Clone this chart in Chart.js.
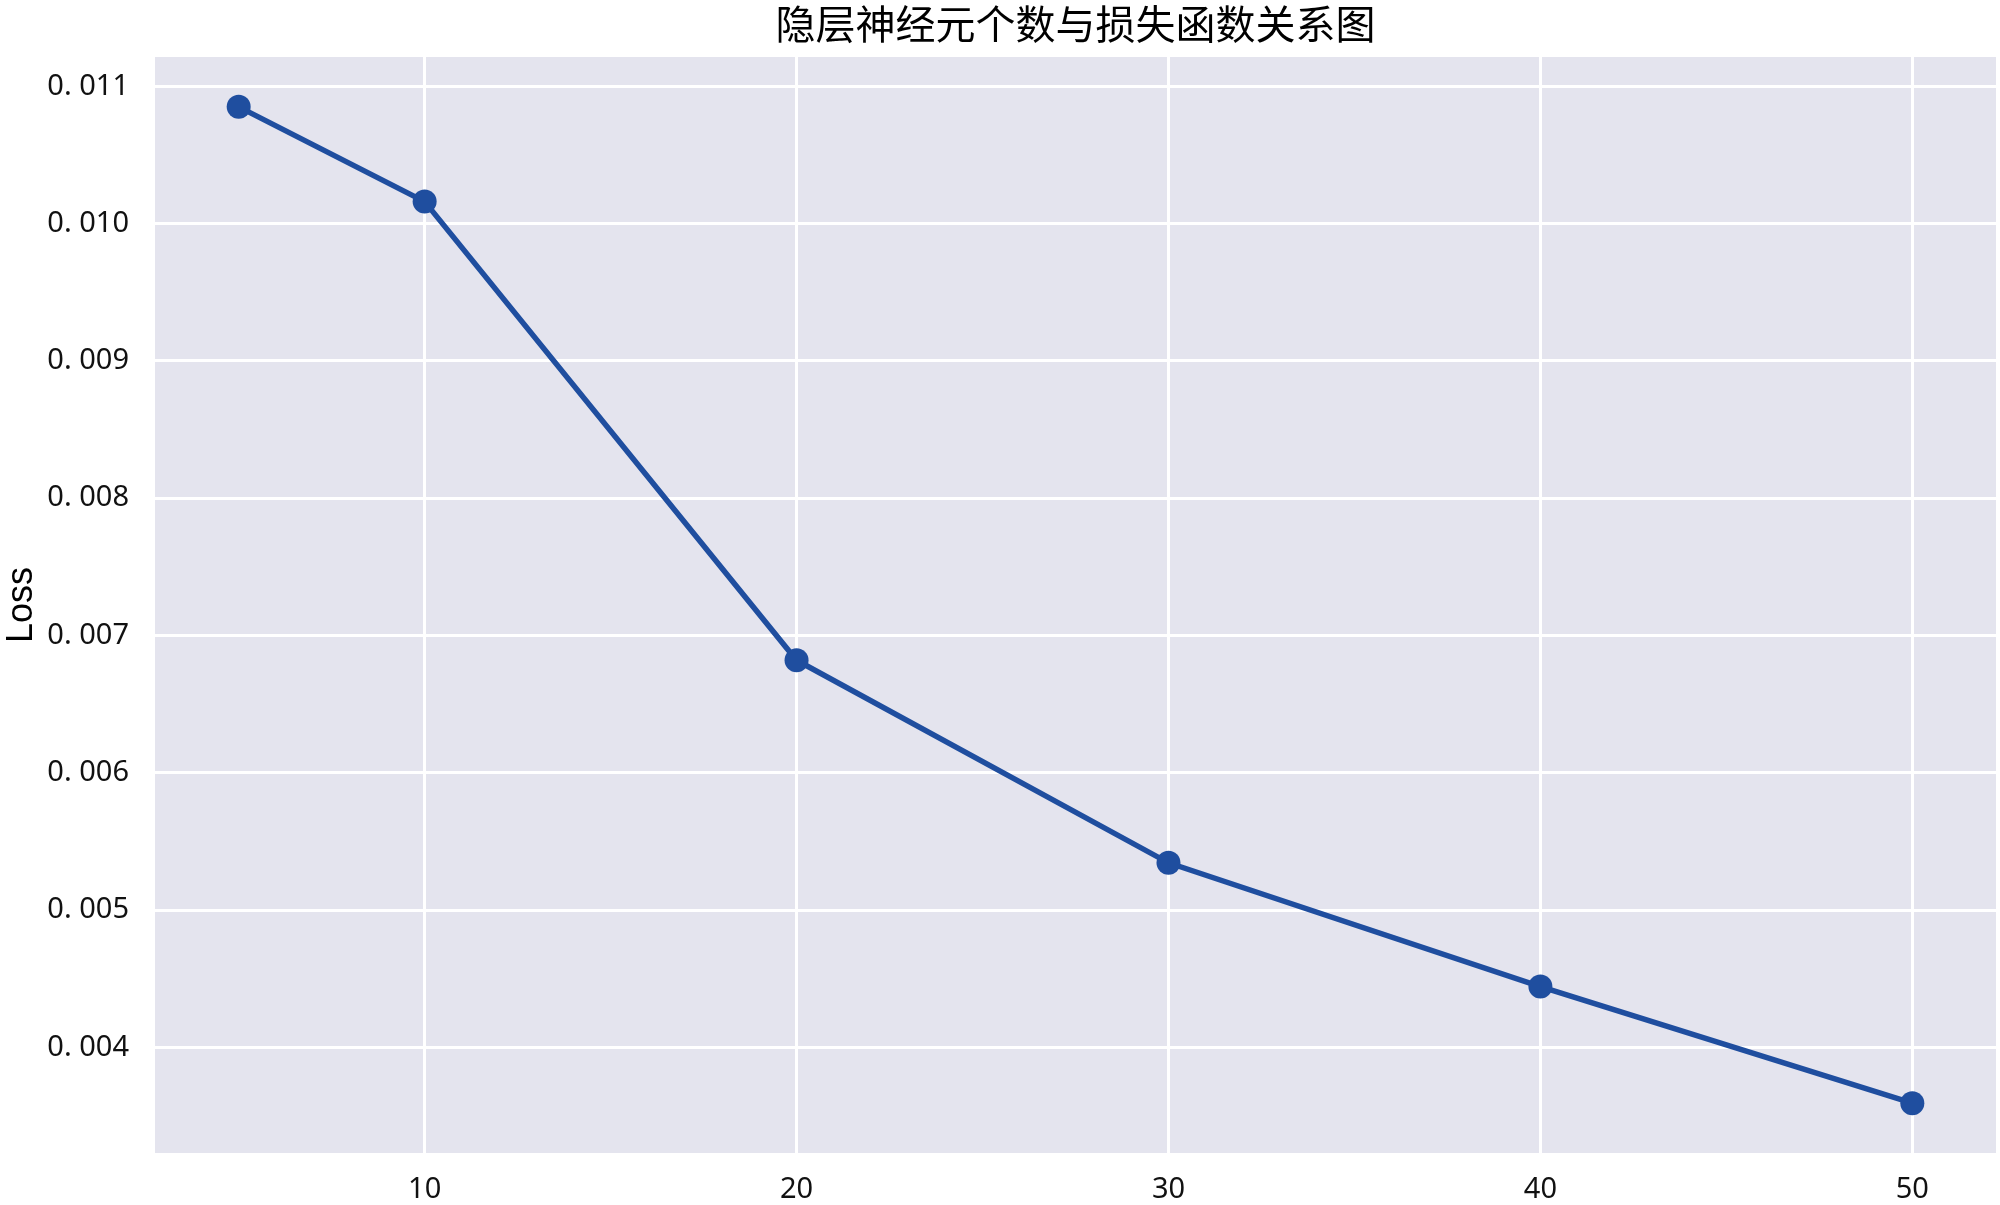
<!DOCTYPE html>
<html>
<head>
<meta charset="utf-8">
<script src="https://cdn.jsdelivr.net/npm/chart.js@4/dist/chart.umd.min.js"></script>
<style>
  html, body { margin: 0; padding: 0; background: #fff; }
  #wrap { width: 2000px; height: 1205px; }
</style>
</head>
<body>
<div id="wrap"><canvas id="lossChart" width="2000" height="1205"></canvas></div>
<script>
// 隐层神经元个数
const neurons = [5, 10, 20, 30, 40, 50];
// 对应的损失
const lossValues = [0.01085, 0.01016, 0.00682, 0.005345, 0.004444, 0.003595];
// 刻度
const xTicks = [10, 20, 30, 40, 50];
const yTicks = [0.004, 0.005, 0.006, 0.007, 0.008, 0.009, 0.010, 0.011];

const tickFont = { family: "'Noto Sans', sans-serif", size: 29 };

// 画图区背景
const plotBg = {
  id: "plotBg",
  beforeDraw(chart) {
    const a = chart.chartArea;
    const ctx = chart.ctx;
    ctx.save();
    ctx.fillStyle = "#E4E4EE";
    ctx.fillRect(a.left, a.top, a.right - a.left, a.bottom - a.top);
    ctx.restore();
  },
};

const config = {
  type: "line",
  data: {
    datasets: [
      {
        label: "Loss",
        data: neurons.map((n, i) => ({ x: n, y: lossValues[i] })),
        borderColor: "#1F4E9F",
        backgroundColor: "#1F4E9F",
        borderWidth: 5.5,
        pointRadius: 12,
        pointHoverRadius: 12,
        pointBorderWidth: 0,
        tension: 0,
      },
    ],
  },
  options: {
    responsive: false,
    animation: false,
    layout: { autoPadding: false, padding: { left: 0, right: 4, top: 0, bottom: 0 } },
    plugins: {
      legend: { display: false },
      tooltip: { enabled: false },
      title: {
        display: true,
        fullSize: false,
        text: "隐层神经元个数与损失函数关系图",
        color: "#000",
        font: { family: "'Noto Sans CJK SC', sans-serif", size: 40, weight: "normal" },
        padding: { top: 0, bottom: 9 },
      },
    },
    scales: {
      x: {
        type: "linear",
        min: 2.75,
        max: 52.25,
        afterBuildTicks: (axis) => {
          axis.ticks = xTicks.map((v) => ({ value: v }));
        },
        afterFit: (axis) => {
          axis.height = 52;
        },
        border: { display: false },
        grid: { color: "#fff", lineWidth: 3, drawTicks: false },
        ticks: {
          color: "#111",
          font: tickFont,
          padding: 19,
          maxRotation: 0,
          callback: (v) => String(v),
        },
      },
      y: {
        type: "linear",
        min: 0.003232,
        max: 0.011213,
        afterBuildTicks: (axis) => {
          axis.ticks = yTicks.map((v) => ({ value: v }));
        },
        afterFit: (axis) => {
          axis.width = 155;
        },
        border: { display: false },
        grid: { color: "#fff", lineWidth: 3, drawTicks: false },
        title: {
          display: true,
          text: "Loss",
          color: "#000",
          font: { family: "'Liberation Sans', 'Noto Sans', sans-serif", size: 36 },
          padding: { top: 0, bottom: 0 },
        },
        ticks: {
          color: "#111",
          font: tickFont,
          padding: 26,
          callback: (v) => v.toFixed(3).replace(".", ". "),
        },
      },
    },
  },
  plugins: [plotBg],
};

const lossChart = new Chart(document.getElementById("lossChart"), config);
</script>
</body>
</html>
